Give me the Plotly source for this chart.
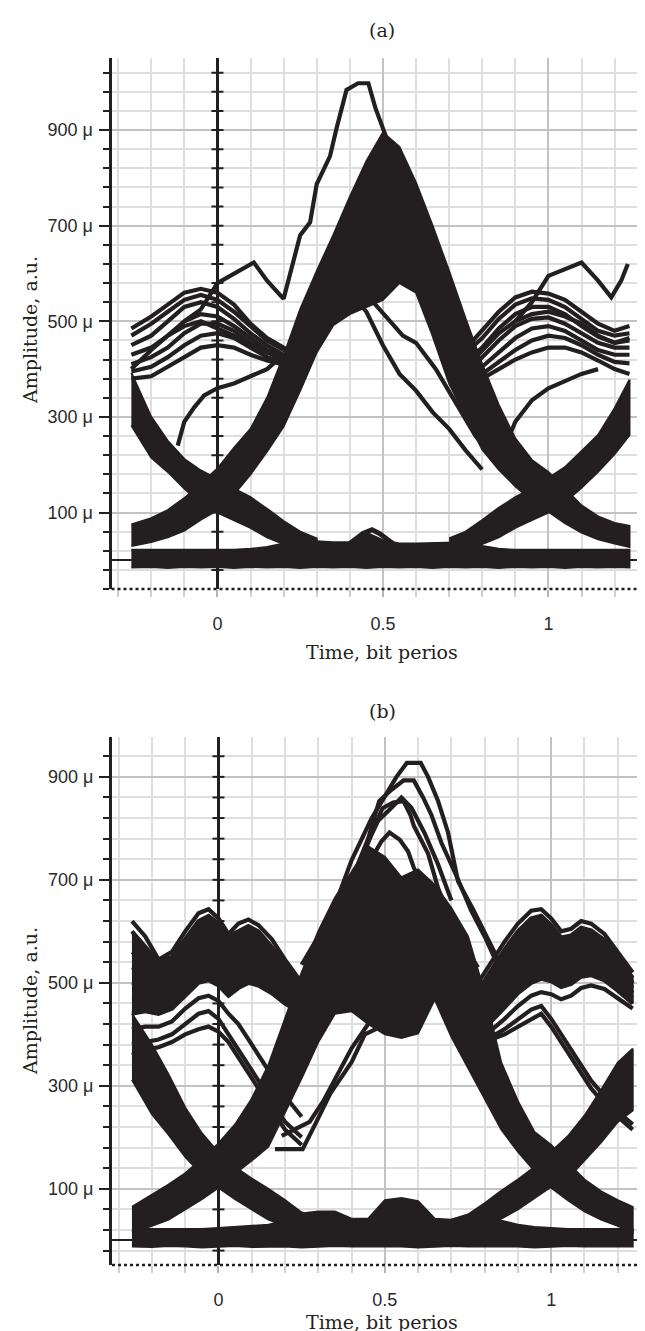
import plotly.graph_objects as go

INK = "#231f20"

# ---------------- axes / tick labels ----------------
X_TICK_VALUES = [0, 0.5, 1]
X_TICK_LABELS = ["0", "0.5", "1"]
Y_TICK_VALUES = [100, 300, 500, 700, 900]
Y_TICK_LABELS = ["100 μ", "300 μ", "500 μ", "700 μ", "900 μ"]
PANEL_TITLES = ["(a)", "(b)"]
X_TITLE = "Time, bit perios"
Y_TITLE = "Amplitude, a.u."

# common time grid (bit periods) for the thick bands
T_GRID = [-0.26, -0.2, -0.15, -0.1, -0.05, 0.0, 0.05, 0.1, 0.15, 0.2, 0.25, 0.3, 0.35, 0.4, 0.45, 0.5,
          0.55, 0.6, 0.65, 0.7, 0.75, 0.8, 0.85, 0.9, 0.95, 1.0, 1.05, 1.1, 1.15, 1.2, 1.245]
TAIL_L_X = [-0.26, -0.2, -0.15, -0.1, -0.05, 0.0, 0.05, 0.1, 0.15, 0.2, 0.25, 0.3]
TAIL_R_X = [0.7, 0.75, 0.8, 0.85, 0.9, 0.95, 1.0, 1.05, 1.1, 1.15, 1.2, 1.245]

# ================= panel (a) (amplitudes in micro-units) =================
A_PULSE_HI = [75, 88, 105, 130, 160, 192, 235, 275, 340, 428, 525, 605, 680, 760, 835, 895,
              865, 790, 700, 605, 505, 410, 325, 255, 210, 185, 150, 115, 92, 78, 72]
A_PULSE_LO = [30, 38, 48, 62, 85, 105, 138, 180, 228, 280, 355, 435, 492, 515, 530, 545,
              580, 560, 470, 370, 300, 232, 190, 155, 125, 102, 78, 58, 44, 35, 28]
A_TAIL_L_HI = [392, 300, 250, 212, 188, 170, 150, 132, 108, 82, 60, 46]
A_TAIL_L_LO = [282, 215, 185, 150, 120, 100, 84, 68, 48, 34, 27, 24]
A_TAIL_R_HI = [46, 60, 84, 110, 132, 150, 172, 195, 228, 262, 318, 378]
A_TAIL_R_LO = [24, 27, 34, 48, 68, 84, 100, 122, 152, 185, 222, 262]
A_RAIL_HI = [22, 22, 22, 22, 22, 22, 22, 24, 28, 35, 40, 40, 38, 38, 58, 42,
             35, 35, 36, 38, 38, 30, 24, 22, 22, 22, 22, 22, 22, 22, 22]
A_RAIL_LO = [-15, -14, -16, -14, -15, -14, -16, -14, -15, -14, -16, -14, -15, -14, -16, -14,
             -15, -14, -16, -14, -15, -14, -16, -14, -15, -14, -16, -14, -15, -14, -15]
A_BUMP_X = [0.40, 0.44, 0.467, 0.49, 0.53]
A_BUMP_Y = [35, 56, 64, 56, 35]

A_CL_X = [-0.26, -0.2, -0.15, -0.1, -0.05, 0.0, 0.05, 0.1, 0.15, 0.2, 0.25]
A_CL_1 = [485, 510, 535, 560, 568, 560, 535, 495, 465, 445, 430]
A_CL_2 = [470, 495, 520, 545, 555, 545, 520, 490, 460, 440, 425]
A_CL_3 = [450, 470, 500, 530, 540, 530, 505, 475, 450, 430, 420]
A_CL_4 = [430, 445, 470, 500, 515, 510, 490, 465, 440, 425, 415]
A_CL_5 = [410, 425, 445, 475, 495, 495, 480, 455, 435, 420, 410]
A_CL_6 = [395, 405, 425, 450, 470, 475, 465, 445, 425, 415, 410]
A_CL_7 = [380, 385, 405, 425, 445, 450, 445, 430, 418, 410, 405]
A_CL_8 = [400, 440, 470, 490, 500, 485, 470, 450, 435, 425, 418]

A_CR_X = [0.76, 0.8, 0.85, 0.9, 0.95, 1.0, 1.05, 1.1, 1.15, 1.2, 1.245]
A_CR_1 = [450, 480, 520, 550, 562, 558, 545, 520, 495, 480, 490]
A_CR_2 = [440, 465, 505, 535, 548, 545, 530, 505, 480, 470, 475]
A_CR_3 = [420, 445, 485, 515, 530, 530, 515, 490, 468, 455, 460]
A_CR_4 = [400, 425, 460, 490, 505, 508, 495, 475, 455, 445, 445]
A_CR_5 = [385, 405, 435, 465, 485, 490, 480, 460, 440, 430, 430]
A_CR_6 = [375, 390, 415, 440, 460, 470, 465, 450, 430, 415, 412]
A_CR_7 = [372, 380, 400, 420, 435, 445, 445, 435, 418, 400, 390]
A_CR_8 = [410, 440, 475, 500, 515, 520, 510, 495, 470, 455, 465]

A_TALL_X = [-0.1, -0.05, 0.0, 0.05, 0.11, 0.15, 0.2, 0.25, 0.28, 0.3, 0.34, 0.36, 0.39, 0.425, 0.456,
            0.477, 0.5, 0.55, 0.6, 0.7, 0.8, 0.9, 1.0]
A_TALL_Y = [500, 525, 580, 600, 623, 585, 547, 680, 707, 787, 845, 904, 984, 998, 998,
            947, 904, 810, 700, 480, 300, 190, 140]
A_SPIKE_R_X = [0.9, 0.95, 1.0, 1.05, 1.1, 1.15, 1.19, 1.22, 1.24]
A_SPIKE_R_Y = [500, 540, 595, 610, 623, 585, 550, 585, 620]
A_LA_X = [-0.12, -0.1, -0.07, -0.04, 0.0, 0.05, 0.1, 0.15, 0.2]
A_LA_Y = [240, 290, 320, 345, 360, 370, 385, 400, 430]
A_LB_X = [0.87, 0.9, 0.95, 1.0, 1.05, 1.1, 1.15]
A_LB_Y = [240, 290, 335, 360, 375, 390, 400]
A_E1_X = [0.40, 0.45, 0.5, 0.55, 0.6, 0.65, 0.7, 0.75, 0.8]
A_E1_Y = [560, 520, 450, 390, 355, 310, 275, 230, 190]
A_E2_X = [0.42, 0.47, 0.52, 0.56, 0.6, 0.66, 0.72, 0.78, 0.85]
A_E2_Y = [580, 540, 500, 470, 455, 400, 330, 260, 200]

# ================= panel (b) =================
B_PULSE_HI = [65, 88, 108, 130, 158, 188, 225, 275, 340, 430, 520, 600, 665, 715, 765, 745,
              705, 720, 690, 645, 590, 480, 345, 270, 210, 185, 150, 118, 95, 78, 65]
B_PULSE_LO = [15, 28, 40, 60, 80, 102, 130, 155, 182, 250, 315, 385, 440, 445, 420, 400,
              393, 402, 468, 395, 335, 275, 215, 172, 135, 102, 78, 56, 40, 28, 15]
B_TAIL_L_HI = [440, 380, 322, 258, 208, 170, 142, 120, 100, 78, 54, 40]
B_TAIL_L_LO = [312, 245, 205, 162, 128, 102, 80, 60, 40, 28, 20, 16]
B_TAIL_R_HI = [40, 50, 72, 96, 118, 142, 172, 202, 242, 292, 345, 372]
B_TAIL_R_LO = [16, 20, 28, 42, 60, 82, 104, 120, 155, 190, 230, 252]
B_RAIL_HI = [22, 22, 22, 22, 22, 24, 26, 28, 30, 38, 52, 56, 56, 42, 42, 78,
             82, 76, 42, 40, 48, 48, 38, 30, 26, 24, 22, 22, 22, 22, 22]
B_RAIL_LO = [-12, -13, -11, -12, -14, -12, -11, -13, -12, -12, -14, -12, -11, -12, -13, -12,
             -12, -14, -12, -11, -12, -13, -12, -12, -14, -12, -11, -12, -13, -12, -12]

B_CL_X = [-0.26, -0.22, -0.18, -0.14, -0.1, -0.06, -0.03, 0.0, 0.03, 0.06, 0.09, 0.12, 0.16, 0.2, 0.25]
B_CL_1 = [620, 590, 545, 560, 600, 635, 643, 625, 595, 615, 623, 612, 585, 545, 500]
B_CL_2 = [600, 570, 540, 550, 585, 620, 630, 615, 590, 600, 610, 600, 570, 535, 490]
B_CL_3 = [560, 545, 520, 530, 565, 600, 610, 595, 570, 585, 595, 585, 555, 520, 480]
B_CL_4 = [530, 520, 500, 510, 545, 575, 585, 570, 545, 560, 572, 565, 540, 505, 470]
B_CL_5 = [500, 495, 480, 490, 520, 550, 560, 545, 520, 540, 550, 545, 520, 490, 460]
B_CL_6 = [470, 470, 460, 470, 500, 525, 535, 520, 500, 515, 525, 520, 500, 475, 450]
B_CL_7 = [440, 445, 440, 450, 475, 500, 505, 495, 475, 490, 500, 495, 480, 460, 440]
B_CL_8 = [410, 415, 415, 425, 450, 470, 475, 465, 440, 420, 390, 360, 320, 280, 240]
B_CL_9 = [380, 385, 390, 400, 420, 440, 445, 430, 400, 370, 340, 310, 270, 230, 200]
B_CL_10 = [360, 370, 375, 385, 400, 410, 415, 405, 385, 355, 325, 295, 255, 215, 185]

B_CR_X = [0.78, 0.82, 0.86, 0.9, 0.94, 0.97, 1.0, 1.03, 1.06, 1.09, 1.12, 1.16, 1.2, 1.245]
B_CR_1 = [500, 540, 580, 615, 640, 643, 625, 600, 605, 620, 615, 595, 560, 520]
B_CR_2 = [485, 525, 565, 600, 625, 630, 612, 588, 592, 607, 602, 583, 550, 510]
B_CR_3 = [470, 505, 545, 580, 605, 612, 595, 572, 578, 592, 588, 570, 538, 500]
B_CR_4 = [455, 485, 522, 555, 580, 588, 575, 555, 560, 575, 572, 555, 525, 490]
B_CR_5 = [440, 465, 500, 530, 555, 562, 552, 535, 540, 555, 555, 540, 512, 480]
B_CR_6 = [425, 445, 475, 505, 528, 535, 528, 515, 520, 535, 535, 522, 498, 470]
B_CR_7 = [410, 425, 452, 480, 500, 508, 503, 492, 498, 512, 515, 505, 485, 460]
B_CR_8 = [398, 408, 430, 455, 475, 482, 478, 468, 475, 490, 495, 488, 470, 450]
B_CR_9 = [390, 395, 410, 430, 448, 455, 430, 400, 370, 340, 310, 280, 250, 225]
B_CR_10 = [385, 390, 400, 415, 430, 440, 415, 385, 355, 325, 295, 265, 240, 215]

B_P1_X = [0.25, 0.30, 0.35, 0.40, 0.46, 0.504, 0.535, 0.566, 0.608, 0.63, 0.66, 0.69, 0.72, 0.765, 0.817, 0.86]
B_P1_Y = [535, 590, 650, 738, 819, 866, 900, 927, 927, 900, 853, 792, 697, 643, 576, 520]
B_P2_X = [0.35, 0.40, 0.45, 0.483, 0.52, 0.556, 0.587, 0.615, 0.64, 0.67, 0.713, 0.76, 0.8, 0.85]
B_P2_Y = [640, 700, 780, 853, 875, 893, 893, 860, 826, 772, 711, 640, 590, 520]
B_P3_X = [0.42, 0.46, 0.493, 0.525, 0.556, 0.577, 0.587, 0.63, 0.66, 0.7, 0.74, 0.78]
B_P3_Y = [720, 790, 839, 850, 853, 826, 805, 751, 684, 620, 570, 530]
B_P4_X = [0.45, 0.49, 0.514, 0.545, 0.57, 0.587, 0.61, 0.64, 0.68, 0.72]
B_P4_Y = [730, 775, 792, 778, 755, 724, 690, 650, 600, 560]
B_P5_X = [0.44, 0.48, 0.52, 0.55, 0.58, 0.62, 0.66, 0.7]
B_P5_Y = [760, 815, 840, 860, 840, 790, 730, 660]
B_EYE1_X = [0.17, 0.253, 0.295, 0.336, 0.40, 0.44, 0.504]
B_EYE1_Y = [177, 177, 231, 285, 346, 400, 420]
B_EYE2_X = [0.19, 0.274, 0.315, 0.357, 0.40, 0.45]
B_EYE2_Y = [203, 230, 270, 320, 373, 420]

# ---------------- geometry ----------------
W, H = 645, 1331
PANELS = [
    dict(x="x", y="y", xtop="x3", yin="y4", xr=[-0.32, 1.313], yr=[-60, 1050],
         xdom=[103.5 / W, 644 / W], ydom=[1 - 581 / H, 1 - 50.4 / H],
         title_y=22, xlab_y=644, ylab_y=322),
    dict(x="x2", y="y2", xtop="x4", yin="y3", xr=[-0.32, 1.303], yr=[-48, 978],
         xdom=[104 / W, 644 / W], ydom=[1 - 1257 / H, 1 - 728.7 / H],
         title_y=703, xlab_y=1314, ylab_y=993),
]

fig = go.Figure()


def band(xs, hi, lo, p):
    fig.add_trace(go.Scatter(x=list(xs) + list(xs)[::-1], y=list(hi) + list(lo)[::-1],
                             fill="toself", fillcolor=INK, mode="lines",
                             line=dict(color=INK, width=2),
                             xaxis=p["x"], yaxis=p["y"], hoverinfo="skip", showlegend=False))


def curve(xs, ys, p, w=4.2):
    fig.add_trace(go.Scatter(x=xs, y=ys, mode="lines", line=dict(color=INK, width=w),
                             xaxis=p["x"], yaxis=p["y"], hoverinfo="skip", showlegend=False))


pa, pb = PANELS

# panel (a)
band(T_GRID, A_RAIL_HI, A_RAIL_LO, pa)
band(TAIL_L_X, A_TAIL_L_HI, A_TAIL_L_LO, pa)
band(TAIL_R_X, A_TAIL_R_HI, A_TAIL_R_LO, pa)
band(T_GRID, A_PULSE_HI, A_PULSE_LO, pa)
curve(A_BUMP_X, A_BUMP_Y, pa, 5)
for ys in [A_CL_1, A_CL_2, A_CL_3, A_CL_4, A_CL_5, A_CL_6, A_CL_7, A_CL_8]:
    curve(A_CL_X, ys, pa)
for ys in [A_CR_1, A_CR_2, A_CR_3, A_CR_4, A_CR_5, A_CR_6, A_CR_7, A_CR_8]:
    curve(A_CR_X, ys, pa)
curve(A_TALL_X, A_TALL_Y, pa)
curve(A_SPIKE_R_X, A_SPIKE_R_Y, pa)
curve(A_LA_X, A_LA_Y, pa)
curve(A_LB_X, A_LB_Y, pa)
curve(A_E1_X, A_E1_Y, pa)
curve(A_E2_X, A_E2_Y, pa)

# panel (b)
band(T_GRID, B_RAIL_HI, B_RAIL_LO, pb)
band(TAIL_L_X, B_TAIL_L_HI, B_TAIL_L_LO, pb)
band(TAIL_R_X, B_TAIL_R_HI, B_TAIL_R_LO, pb)
band(T_GRID, B_PULSE_HI, B_PULSE_LO, pb)
# dense cores of the side clusters
band(B_CL_X, B_CL_2, B_CL_7, pb)
band(B_CR_X, B_CR_2, B_CR_7, pb)
for ys in [B_CL_1, B_CL_2, B_CL_3, B_CL_4, B_CL_5, B_CL_6, B_CL_7, B_CL_8, B_CL_9, B_CL_10]:
    curve(B_CL_X, ys, pb)
for ys in [B_CR_1, B_CR_2, B_CR_3, B_CR_4, B_CR_5, B_CR_6, B_CR_7, B_CR_8, B_CR_9, B_CR_10]:
    curve(B_CR_X, ys, pb)
for xs, ys in [(B_P1_X, B_P1_Y), (B_P2_X, B_P2_Y), (B_P3_X, B_P3_Y), (B_P4_X, B_P4_Y),
               (B_P5_X, B_P5_Y), (B_EYE1_X, B_EYE1_Y), (B_EYE2_X, B_EYE2_Y)]:
    curve(xs, ys, pb)

TICK_FONT = dict(family="Liberation Sans Narrow, Liberation Sans, Arial, sans-serif", size=18, color="#2a2a2a")
SERIF = dict(family="DejaVu Serif, Liberation Serif, serif", size=19, color=INK)

layout = dict(width=W, height=H, margin=dict(l=0, r=0, t=0, b=0), autosize=False,
              paper_bgcolor="white", plot_bgcolor="white", showlegend=False)
shapes, annotations = [], []

for i, p in enumerate(PANELS):
    xk = "xaxis" if p["x"] == "x" else "xaxis" + p["x"][1:]
    yk = "yaxis" if p["y"] == "y" else "yaxis" + p["y"][1:]
    layout[xk] = dict(domain=p["xdom"], range=p["xr"], anchor=p["y"], tickmode="array",
                      tickvals=X_TICK_VALUES, ticktext=X_TICK_LABELS, ticks="outside", ticklen=7,
                      tickcolor="#b5b5b5", tickwidth=1.5, showgrid=True, gridcolor="#c2c2c2", gridwidth=1.5,
                      minor=dict(tickmode="linear", tick0=0, dtick=0.1, ticks="outside", ticklen=7,
                                 tickcolor="#cfcfcf", tickwidth=1.5, showgrid=True,
                                 gridcolor="#dedede", gridwidth=1.5),
                      zeroline=True, zerolinecolor=INK, zerolinewidth=2.5, showline=False,
                      tickfont=TICK_FONT, ticklabelstandoff=11, fixedrange=True)
    layout[yk] = dict(domain=p["ydom"], range=p["yr"], anchor=p["x"], tickmode="array",
                      tickvals=Y_TICK_VALUES, ticktext=Y_TICK_LABELS, ticks="outside", ticklen=10,
                      tickwidth=2, tickcolor=INK, showline=True, linewidth=3, linecolor=INK,
                      showgrid=True, gridcolor="#c2c2c2", gridwidth=1.5,
                      minor=dict(tickmode="linear", tick0=20, dtick=40, ticks="outside", ticklen=6,
                                 tickwidth=2, tickcolor=INK, showgrid=True, gridcolor="#dedede",
                                 gridwidth=1.5),
                      zeroline=True, zerolinecolor=INK, zerolinewidth=2,
                      tickfont=TICK_FONT, ticklabelstandoff=2, fixedrange=True)
    # top axis (solid, ticks pointing up)
    layout["xaxis" + p["xtop"][1:]] = dict(overlaying=p["x"], anchor=p["y"], side="top", range=p["xr"],
                                           tickmode="array", tickvals=X_TICK_VALUES, ticks="outside",
                                           ticklen=9, tickwidth=2, tickcolor=INK, showticklabels=False,
                                           showline=True, linewidth=3, linecolor=INK, showgrid=False,
                                           zeroline=False, fixedrange=True,
                                           minor=dict(tickmode="linear", tick0=0, dtick=0.1,
                                                      ticks="outside", ticklen=5, tickwidth=2,
                                                      tickcolor=INK, showgrid=False))
    # inner half of the crossing ticks on the left axis
    layout["yaxis" + p["yin"][1:]] = dict(overlaying=p["y"], anchor=p["x"], side="left", range=p["yr"],
                                          tickmode="linear", tick0=20, dtick=40, ticks="inside",
                                          ticklen=5, tickwidth=2, tickcolor=INK, showticklabels=False,
                                          showgrid=False, zeroline=False, showline=False, fixedrange=True)
    xd = p["x"] + " domain"
    yd = p["y"] + " domain"
    shapes.append(dict(type="line", xref=xd, yref=yd, x0=0, x1=1, y0=0, y1=0,
                       line=dict(color=INK, width=2.5, dash="dot"), layer="above"))
    shapes.append(dict(type="line", xref=xd, yref=yd, x0=1, x1=1, y0=0, y1=1,
                       line=dict(color="#8a8a8a", width=2, dash="dot"), layer="above"))
    # crossing ticks on the vertical x = 0 line
    lvl = 20
    while lvl < p["yr"][1]:
        shapes.append(dict(type="line", xref=p["x"], yref=p["y"], xsizemode="pixel", xanchor=0,
                           x0=-6, x1=6, y0=lvl, y1=lvl, line=dict(color=INK, width=2), layer="above"))
        lvl += 40
    lvl = -20
    while lvl > p["yr"][0]:
        shapes.append(dict(type="line", xref=p["x"], yref=p["y"], xsizemode="pixel", xanchor=0,
                           x0=-6, x1=6, y0=lvl, y1=lvl, line=dict(color=INK, width=2), layer="above"))
        lvl -= 40
    cx = (p["xdom"][0] + p["xdom"][1]) / 2
    annotations.append(dict(text=PANEL_TITLES[i], x=cx, y=1 - p["title_y"] / H, xref="paper", yref="paper",
                            showarrow=False, xanchor="center", yanchor="middle", font=SERIF))
    annotations.append(dict(text=X_TITLE, x=cx, y=1 - p["xlab_y"] / H, xref="paper", yref="paper",
                            showarrow=False, xanchor="center", yanchor="middle", font=SERIF))
    annotations.append(dict(text=Y_TITLE, x=22 / W, y=1 - p["ylab_y"] / H, xref="paper", yref="paper",
                            showarrow=False, xanchor="center", yanchor="middle", textangle=-90, font=SERIF))

layout["shapes"] = shapes
layout["annotations"] = annotations
fig.update_layout(**layout)
fig.write_html("out.html")
